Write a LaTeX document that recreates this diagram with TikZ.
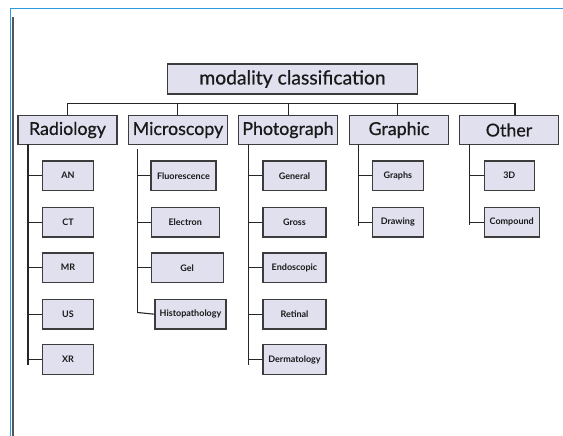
\documentclass[tikz,border=0pt]{standalone}
\usepackage{fontspec}
\setmainfont{Lato}
\newfontfamily\headfont[FakeBold=0.6]{Lato}
\definecolor{boxfill}{HTML}{E0E0EF}
\definecolor{boxline}{HTML}{3C3C3C}
\definecolor{frameblue}{HTML}{2A9DE0}
\definecolor{framegray}{HTML}{555555}
\begin{document}
\begin{tikzpicture}[x=1pt,y=-1pt,
  basebox/.style={draw=boxline,fill=boxfill,line width=1.1pt,inner sep=0pt,anchor=center,text=black!90},
  topbox/.style={basebox,minimum width=250pt,minimum height=30pt,font=\fontsize{19.3}{22}\headfont},
  catbox/.style={basebox,minimum width=99pt,minimum height=28.5pt,font=\fontsize{17.8}{20}\headfont},
  leafbox/.style={basebox,minimum height=29.5pt,font=\fontsize{9}{10}\selectfont\bfseries},
  wire/.style={draw=black!85,line width=1.1pt}]
\useasboundingbox (0,0) rectangle (563,436);
% frame
\draw[frameblue,line width=0.9pt] (10,436) -- (10,8) -- (563,8);
\draw[framegray,line width=1.6pt] (12.8,17) -- (12.8,436);
% top
\node[topbox] (top) at (292.5,79) {modality classification};
% categories
\node[catbox] (rad) at (67.5,130) {Radiology};
\node[catbox] (mic) at (178,130) {Microscopy};
\node[catbox] (pho) at (288,130) {Photograph};
\node[catbox] (gra) at (399,130) {Graphic};
\node[catbox] (oth) at (509,130) {Other};
% bus
\coordinate (b1) at (67.7,103.3);
\coordinate (b2) at (177.7,103.3);
\coordinate (b3) at (288.7,103.3);
\coordinate (b4) at (397.7,103.3);
\coordinate (b5) at (515,103.3);
\draw[wire] (b1) -- (b5);
\draw[wire] (b1) -- (b1 |- rad.north);
\draw[wire] (b2) -- (b2 |- mic.north);
\draw[wire] (b3) -- (b3 |- pho.north);
\draw[wire] (b4) -- (b4 |- gra.north);
\draw[wire] (b5) -- (b5 |- oth.north);
% Radiology children
\node[leafbox,minimum width=50.6pt] (an) at (68,175.7) {AN};
\node[leafbox,minimum width=50.6pt] (ct) at (68,222.2) {CT};
\node[leafbox,minimum width=50.6pt] (mr) at (68,267.7) {MR};
\node[leafbox,minimum width=50.6pt] (us) at (68,314.2) {US};
\node[leafbox,minimum width=50.6pt] (xr) at (68,359.5) {XR};
\coordinate (rt) at (28,144);
\coordinate (rb) at (28,365);
\draw[wire] (rt) -- (rb);
\foreach \n in {an,ct,mr,us,xr} \draw[wire] (\n.west) -- (\n.west -| rt);
% Microscopy children
\node[leafbox,minimum width=65pt] (flu) at (183.5,175.7) {Fluorescence};
\node[leafbox,minimum width=68.3pt] (ele) at (185.2,222.2) {Electron};
\node[leafbox,minimum width=72.3pt] (gel) at (187.2,267.7) {Gel};
\node[leafbox,minimum width=71pt] (his) at (190.5,314.2) {Histopathology};
\coordinate (mt) at (137.5,149);
\coordinate (mb) at (137.5,312.5);
\draw[wire] (mt) -- (mb);
\foreach \n in {flu,ele,gel} \draw[wire] (\n.west) -- (\n.west -| mt);
\draw[wire] (mb) -- (his.west);
% Photograph children
\node[leafbox,minimum width=63pt] (gen) at (294.5,175.7) {General};
\node[leafbox,minimum width=63pt] (gro) at (294.5,222.2) {Gross};
\node[leafbox,minimum width=63pt] (end) at (294.5,267.7) {Endoscopic};
\node[leafbox,minimum width=63pt] (ret) at (294.5,314.2) {Retinal};
\node[leafbox,minimum width=63pt] (der) at (294.5,359.5) {Dermatology};
\coordinate (pt) at (248.5,144);
\coordinate (pb) at (248.5,365);
\draw[wire] (pt) -- (pb);
\foreach \n in {gen,gro,end,ret,der} \draw[wire] (\n.west) -- (\n.west -| pt);
% Graphic children
\node[leafbox,minimum width=51pt] (grp) at (397.8,175.7) {Graphs};
\node[leafbox,minimum width=51pt] (drw) at (397.8,222.2) {Drawing};
\coordinate (gt) at (358.3,144);
\coordinate (gb) at (358.3,226);
\draw[wire] (gt) -- (gb);
\foreach \n in {grp,drw} \draw[wire] (\n.west) -- (\n.west -| gt);
% Other children
\node[leafbox,minimum width=50pt] (thd) at (509.3,175.7) {3D};
\node[leafbox,minimum width=54.7pt] (cmp) at (511.7,222.2) {Compound};
\coordinate (ot) at (469.3,144);
\coordinate (ob) at (469.3,225);
\draw[wire] (ot) -- (ob);
\foreach \n in {thd,cmp} \draw[wire] (\n.west) -- (\n.west -| ot);
\end{tikzpicture}
\end{document}
